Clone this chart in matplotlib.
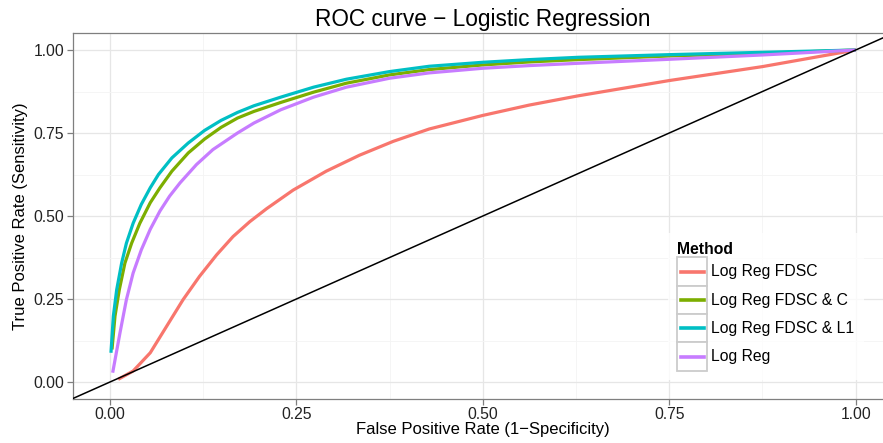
import numpy as np
import matplotlib
matplotlib.use('Agg')
import matplotlib.pyplot as plt
from matplotlib.legend_handler import HandlerBase
from matplotlib.patches import Rectangle
from matplotlib.lines import Line2D

plt.rcParams['font.family'] = ['Liberation Sans', 'DejaVu Sans']

# ROC curves (false positive rate, true positive rate)
fpr_fdsc = [0.011, 0.031, 0.054, 0.076, 0.098, 0.12, 0.143, 0.165, 0.1875, 0.21,
            0.2456, 0.29, 0.3345, 0.38, 0.428, 0.5, 0.562, 0.628, 0.75, 0.875, 1.0]
tpr_fdsc = [0.008, 0.033, 0.088, 0.168, 0.248, 0.318, 0.383, 0.438, 0.483, 0.522,
            0.578, 0.635, 0.683, 0.725, 0.762, 0.803, 0.834, 0.862, 0.908, 0.95, 1.0]

fpr_fdsc_c = [0.0027, 0.0067, 0.0125, 0.02, 0.029, 0.040, 0.054, 0.067, 0.083, 0.105, 0.127,
              0.149, 0.171, 0.193, 0.229, 0.273, 0.317, 0.375, 0.428, 0.5, 0.562, 0.628,
              0.75, 0.875, 1.0]
tpr_fdsc_c = [0.098, 0.198, 0.278, 0.358, 0.418, 0.478, 0.54, 0.585, 0.635, 0.69, 0.732,
              0.767, 0.795, 0.815, 0.842, 0.873, 0.9, 0.925, 0.941, 0.955, 0.964, 0.971,
              0.982, 0.99, 1.0]

fpr_fdsc_l1 = [0.0013, 0.0045, 0.009, 0.0156, 0.022, 0.031, 0.042, 0.054, 0.065, 0.083, 0.105,
               0.127, 0.149, 0.171, 0.193, 0.229, 0.273, 0.317, 0.375, 0.428, 0.5, 0.562,
               0.628, 0.75, 0.875, 1.0]
tpr_fdsc_l1 = [0.088, 0.198, 0.278, 0.358, 0.418, 0.478, 0.535, 0.585, 0.625, 0.675, 0.72,
               0.758, 0.788, 0.812, 0.832, 0.858, 0.888, 0.912, 0.935, 0.951, 0.963, 0.971,
               0.978, 0.986, 0.993, 1.0]

fpr_logreg = [0.0036, 0.0134, 0.022, 0.031, 0.042, 0.054, 0.067, 0.080, 0.094, 0.116, 0.138,
              0.171, 0.193, 0.229, 0.273, 0.317, 0.375, 0.428, 0.5, 0.562, 0.628, 0.75,
              0.875, 1.0]
tpr_logreg = [0.028, 0.148, 0.248, 0.328, 0.398, 0.46, 0.515, 0.56, 0.60, 0.655, 0.70,
              0.75, 0.78, 0.82, 0.858, 0.888, 0.915, 0.931, 0.945, 0.953, 0.96, 0.972,
              0.985, 1.0]

methods = ['Log Reg FDSC', 'Log Reg FDSC & C', 'Log Reg FDSC & L1', 'Log Reg']
colors = ['#F8766D', '#7CAE00', '#00BFC4', '#C77CFF']
ticks = [0.0, 0.25, 0.5, 0.75, 1.0]
tick_labels = ['0.00', '0.25', '0.50', '0.75', '1.00']

curves = [(fpr_fdsc, tpr_fdsc), (fpr_fdsc_c, tpr_fdsc_c),
          (fpr_fdsc_l1, tpr_fdsc_l1), (fpr_logreg, tpr_logreg)]


class KeyHandler(HandlerBase):
    # ggplot style legend key: grey bordered square with the line in it
    def create_artists(self, legend, orig_handle, xdescent, ydescent, width, height, fontsize, trans):
        rect = Rectangle((-xdescent, -ydescent), width, height, facecolor='white',
                         edgecolor='#cccccc', lw=1.3, transform=trans)
        line = Line2D([-xdescent + 0.12 * width, -xdescent + 0.88 * width],
                      [-ydescent + height / 2] * 2, color=orig_handle.get_color(),
                      lw=2.6, transform=trans)
        return [rect, line]


W, H = 883, 443
fig = plt.figure(figsize=(W / 100, H / 100), dpi=100)
# panel in pixels: x -0.05..1.05 -> 72.7..893, y -0.05..1.05 -> 398.6..33.4
left, right, top, bottom = 72.7, 893.0, 33.4, 398.6
ax = fig.add_axes([left / W, 1 - bottom / H, (right - left) / W, (bottom - top) / H])

ax.set_xlim(-0.05, 1.05)
ax.set_ylim(-0.05, 1.05)

handles = []
for (x, y), c, m in zip(curves, colors, methods):
    h, = ax.plot(x, y, color=c, lw=2.3, label=m, solid_capstyle='butt',
                 solid_joinstyle='round', zorder=3)
    handles.append(h)
ax.axline((0, 0), (1, 1), color='black', lw=1.1, zorder=4)

ax.set_xticks(ticks)
ax.set_xticklabels(tick_labels)
ax.set_yticks(ticks)
ax.set_yticklabels(tick_labels)
ax.set_xticks([0.125, 0.375, 0.625, 0.875], minor=True)
ax.set_yticks([0.125, 0.375, 0.625, 0.875], minor=True)
ax.grid(which='major', color='#e6e6e6', lw=0.9)
ax.grid(which='minor', color='#f4f4f4', lw=0.6)
ax.set_axisbelow(True)
ax.tick_params(which='major', length=4, width=0.9, color='#7f7f7f', labelsize=11.3,
               labelcolor='#222222', pad=2)
ax.tick_params(which='minor', length=0)
for s in ax.spines.values():
    s.set_color('#7f7f7f')
    s.set_linewidth(0.9)

ax.set_title('ROC curve \u2212 Logistic Regression', fontsize=16.3, pad=5)
ax.set_xlabel('False Positive Rate (1\u2212Specificity)', fontsize=12, labelpad=0)
ax.set_ylabel('True Positive Rate (Sensitivity)', fontsize=12, labelpad=4)

leg = ax.legend(handles=handles, labels=methods, title='Method',
                handler_map={Line2D: KeyHandler()},
                loc='upper left', bbox_to_anchor=(668 / W, 1 - 233 / H),
                bbox_transform=fig.transFigure, fontsize=11.3,
                title_fontproperties={'weight': 'bold', 'size': 11.3},
                alignment='left', frameon=True, fancybox=False,
                handlelength=1.9, handleheight=2.4, labelspacing=0.0,
                handletextpad=0.25, borderpad=0.6, borderaxespad=0)
leg.get_frame().set_edgecolor('white')
leg.get_frame().set_linewidth(0)
leg.set_zorder(5)

fig.savefig('out.png', dpi=100)
